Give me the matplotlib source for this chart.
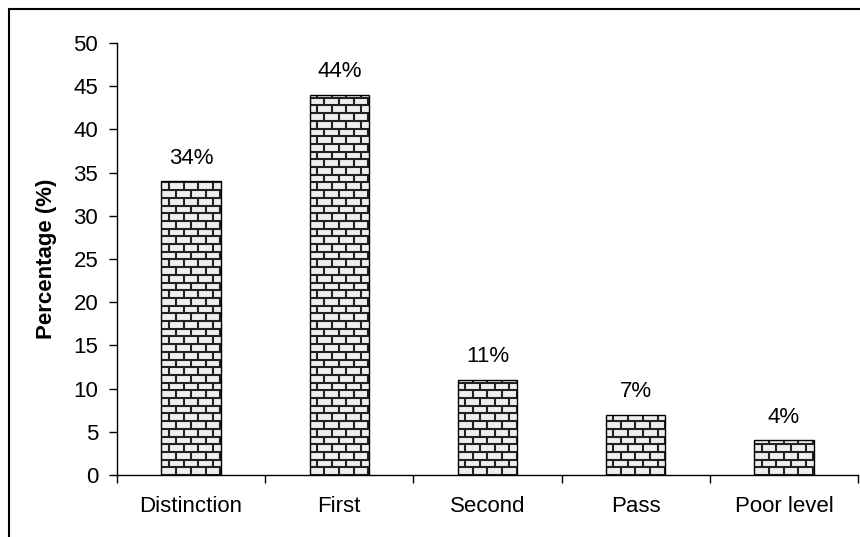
import matplotlib
matplotlib.use("Agg")
import matplotlib.pyplot as plt
from matplotlib.collections import LineCollection
from matplotlib.patches import Rectangle
from matplotlib.ticker import FixedLocator, NullFormatter
import numpy as np

categories = ["Distinction", "First", "Second", "Pass", "Poor level"]
values = [34, 44, 11, 7, 4]
labels = ["34%", "44%", "11%", "7%", "4%"]
yticks = [0, 5, 10, 15, 20, 25, 30, 35, 40, 45, 50]

plt.rcParams["font.family"] = ["Liberation Sans", "DejaVu Sans"]
FS = 16

fig = plt.figure(figsize=(8.6, 5.37), dpi=100)
ax = fig.add_axes([117 / 860, 1 - 475 / 537, (858 - 117) / 860, (475 - 43) / 537])

x = np.arange(len(categories))
bar_w = 0.40
bars = ax.bar(x, values, width=bar_w, color="#eeeeee", edgecolor="none",
              linewidth=0, zorder=2)

ax.set_xlim(-0.5, len(categories) - 0.5)
ax.set_ylim(0, 50)

# brick texture drawn inside each bar, sized in pixels
px_per_x = ax.bbox.width / len(categories)
px_per_y = ax.bbox.height / 50.0
row_h = 7.7 / px_per_y
brick_w = 14.7 / px_per_x
for rect in bars:
    x0, w, h = rect.get_x(), rect.get_width(), rect.get_height()
    segs = []
    r = 0
    while r * row_h < h:
        y = r * row_h
        y_top = min(y + row_h, h)
        segs.append([(x0, y), (x0 + w, y)])
        off = 0 if r % 2 == 0 else brick_w / 2
        for xv in np.arange(x0 + off, x0 + w, brick_w):
            segs.append([(xv, y), (xv, y_top)])
        r += 1
    lc = LineCollection(segs, colors="#222222", linewidths=1.5, zorder=3)
    ax.add_collection(lc)
    lc.set_clip_path(rect)
    outline = Rectangle((x0, 0), w, h, fill=False, edgecolor="black",
                        linewidth=1.0, zorder=4)
    ax.add_patch(outline)

for xi, v, lab in zip(x, values, labels):
    ax.annotate(lab, (xi, v), xytext=(0, 9), textcoords="offset points",
                ha="center", va="bottom", fontsize=FS)

ax.set_yticks(yticks)
ax.tick_params(axis="y", direction="out", length=5.5, width=1, labelsize=FS, pad=8)
ax.set_xticks(x)
ax.set_xticklabels(categories)
ax.tick_params(axis="x", which="major", length=0, labelsize=FS, pad=15)
ax.xaxis.set_minor_locator(FixedLocator(np.arange(-0.5, len(categories), 1.0)))
ax.xaxis.set_minor_formatter(NullFormatter())
ax.tick_params(axis="x", which="minor", direction="out", length=5.5, width=1)

for s in ("top", "right"):
    ax.spines[s].set_visible(False)
ax.spines["left"].set_linewidth(1)
ax.spines["bottom"].set_linewidth(1)

ax.set_ylabel("Percentage (%)", fontsize=FS, fontweight="bold", labelpad=12)

# chart frame
frame = Rectangle((9 / 860, -0.2), 1.2, 1.2 - 9 / 537, transform=fig.transFigure,
                  fill=False, edgecolor="black", linewidth=1.5)
fig.patches.append(frame)

fig.savefig("out.png", dpi=100)
